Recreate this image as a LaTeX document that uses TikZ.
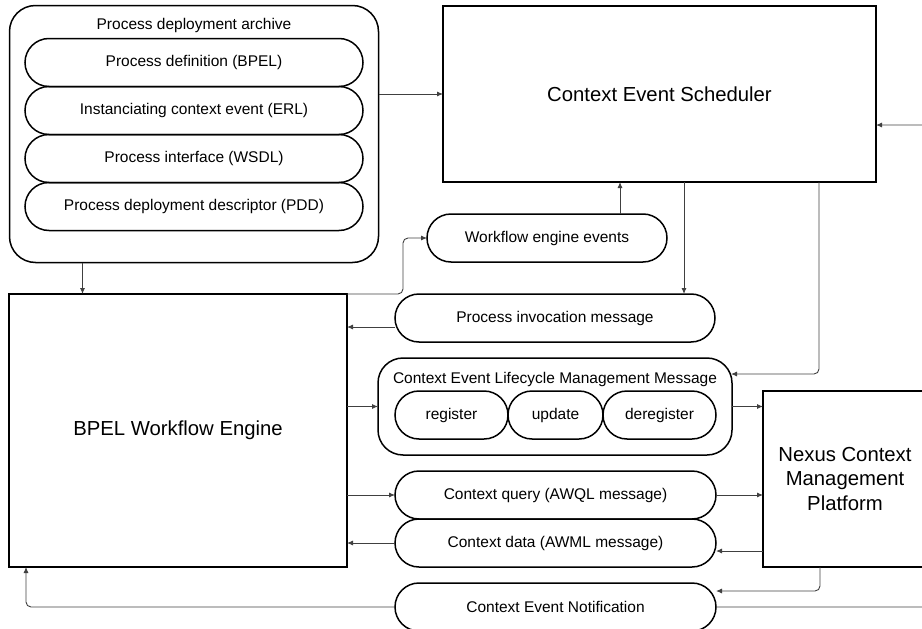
\documentclass[tikz,border=0pt]{standalone}
\usepackage{fontspec}
\setmainfont{Liberation Sans}
\usetikzlibrary{positioning,calc,arrows.meta}
\newcommand{\msgfont}{\fontsize{15.5}{18.6}\selectfont}
\newcommand{\blockfont}{\fontsize{20.3}{24.5}\selectfont}

\begin{document}
\begin{tikzpicture}[
			x=1pt, y=-1pt,
			group/.style={rectangle, draw=black, line width=1.5pt, rounded corners=26pt, inner sep=0pt, outer sep=0pt},
			item/.style={rectangle, draw=black, line width=1.5pt, rounded corners=24pt, minimum height=48pt, align=center, inner sep=0pt, outer sep=0pt, font=\msgfont},
			block/.style={rectangle, draw=black, line width=1.5pt, align=center, inner sep=0pt, outer sep=0pt, font=\blockfont},
			title/.style={rectangle, inner sep=0pt, font=\msgfont},
			conn/.style={draw=black!75, line width=0.9pt, -{Latex[length=6pt,width=5pt]}, rounded corners=5pt}
		]
		\useasboundingbox (0,0) rectangle (922,629);
		\node[group, minimum width=369pt, minimum height=257pt] (archive) at (194,134) {};
		\node[title, anchor=base] (archivetitle) at ([yshift=-24pt]archive.north) {Process deployment archive};
		\node[item, minimum width=338pt] (procdef) [below=33pt of archive.north] {Process definition (BPEL)};
		\node[item, minimum width=338pt] (instevent) [below=0pt of procdef] {Instanciating context event (ERL)};
		\node[item, minimum width=338pt] (procif) [below=0pt of instevent] {Process interface (WSDL)};
		\node[item, minimum width=338pt] (procdesc) [below=0pt of procif] {Process deployment descriptor (PDD)};
		\node[block, minimum width=433pt, minimum height=176pt] (scheduler) at (659.5,94) {Context Event Scheduler};
		\node[item, minimum width=240pt] (engineevents) at (547,238) {Workflow engine events};
		\node[item, minimum width=320pt] (invocation) at (555,318) {Process invocation message};
		\node[block, minimum width=338pt, minimum height=273pt] (engine) at (178,430.5) {BPEL Workflow Engine};
		\node[group, rounded corners=25pt, minimum width=354pt, minimum height=97pt] (lifecycle) at (555,406.5) {};
		\node[title, anchor=base] (lifecycletitle) at ([yshift=-25pt]lifecycle.north) {Context Event Lifecycle Management Message};
		\node[item, minimum width=113pt] (register) at (451.5,415) {register};
		\node[item, minimum width=95pt] (update) [right=0pt of register] {update};
		\node[item, minimum width=113pt] (deregister) [right=0pt of update] {deregister};
		\node[block, minimum width=164pt, minimum height=176pt] (nexus) at (845,479) {Nexus Context\\Management\\Platform};
		\node[item, minimum width=321pt] (query) at (555.5,495) {Context query (AWQL message)};
		\node[item, minimum width=321pt] (data) [below=0pt of query] {Context data (AWML message)};
		\node[item, minimum width=321pt] (notification) at (555.5,607) {Context Event Notification};
		\begin{scope}[conn]
		\draw (archive.east |- scheduler.west) -- (scheduler.west);
		\draw ([xshift=73pt]archive.south west) -- ([xshift=73pt]archive.south west |- engine.north);
		\draw (engine.north east) -- ++(56,0) |- (engineevents.west);
		\draw ([xshift=73pt]engineevents.north) -- ([xshift=73pt]engineevents.north |- scheduler.south);
		\draw ([xshift=24.5pt]scheduler.south) -- ([xshift=24.5pt]scheduler.south |- invocation.north);
		\draw ([yshift=-9pt]invocation.west) -- ([yshift=-9pt]invocation.west -| engine.east);
		\draw ([xshift=159.5pt]scheduler.south) |- ([xshift=-1pt,yshift=32.5pt]lifecycle.east);
		\draw (engine.east |- lifecycle.west) -- (lifecycle.west);
		\draw (lifecycle.east) -- (lifecycle.east -| nexus.west);
		\draw (engine.east |- query.west) -- (query.west);
		\draw (query.east) -- (query.east -| nexus.west);
		\draw ([yshift=-8pt]data.east -| nexus.west) -- ([yshift=-8pt]data.east);
		\draw (data.west) -- (data.west -| engine.east);
		\draw ([xshift=-25pt]nexus.south) |- ([yshift=16pt]notification.east);
		\draw (notification.west) -| ([xshift=17pt]engine.south west);
		\draw (notification.east) -- ++(215,0) |- ([yshift=-31pt]scheduler.east);
		\end{scope}
		\end{tikzpicture}
\end{document}
